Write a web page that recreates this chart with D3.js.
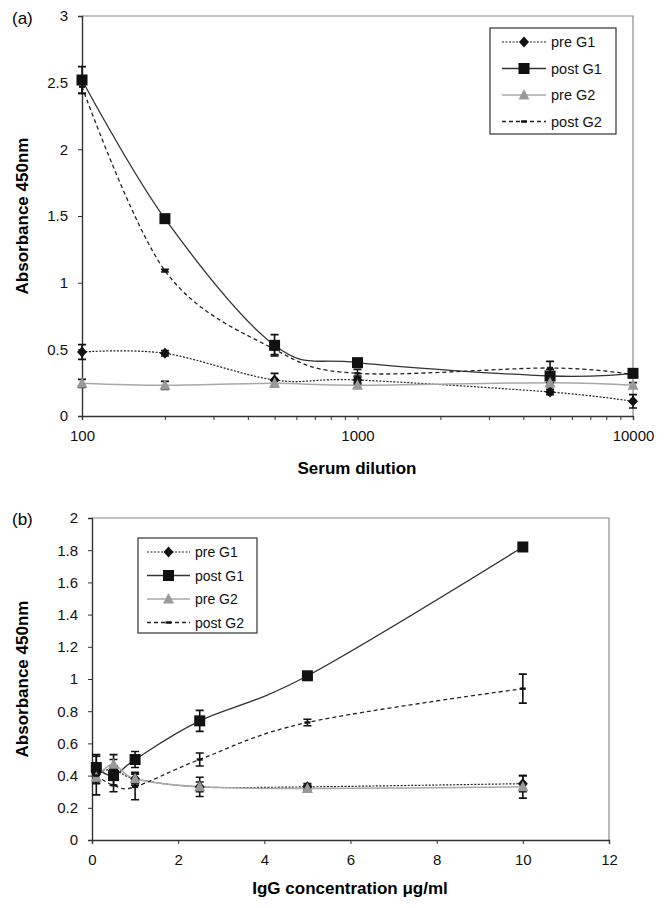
<!DOCTYPE html>
<html>
<head>
<meta charset="utf-8">
<script src="https://cdn.jsdelivr.net/npm/d3@7"></script>
<style>
  body { margin: 0; background: #fff; }
  svg { display: block; font-family: Arial, "Liberation Sans", sans-serif; }
</style>
</head>
<body>
<svg id="fig" width="669" height="908"></svg>
<script>
"use strict";

// panel (a) - serum dilution
const dilutions = [100, 200, 500, 1000, 5000, 10000];
const aPreG1 = [0.48, 0.47, 0.27, 0.27, 0.18, 0.11];
const aPostG1 = [2.52, 1.48, 0.53, 0.40, 0.30, 0.32];
const aPreG2 = [0.245, 0.23, 0.245, 0.23, 0.25, 0.23];
const aPostG2 = [2.47, 1.09, 0.50, 0.32, 0.36, 0.31];
const aPreG1Err = [0.055, 0.02, 0.05, 0.03, 0.02, 0.05];
const aPostG1Err = [0.10, 0.02, 0.08, 0.03, 0.05, 0.02];
const aPreG2Err = [0.03, 0.03, 0.02, 0.02, 0.03, 0.02];
const aPostG2Err = [0.05, 0.01, 0.04, 0.03, 0.05, 0.02];
const aYTicks = [0, 0.5, 1, 1.5, 2, 2.5, 3];
const aXTicks = [100, 1000, 10000];

// panel (b) - IgG concentration
const concs = [0.1, 0.5, 1, 2.5, 5, 10];
const bPreG1 = [0.41, 0.44, 0.38, 0.33, 0.33, 0.35];
const bPostG1 = [0.45, 0.40, 0.50, 0.74, 1.02, 1.82];
const bPreG2 = [0.39, 0.47, 0.38, 0.33, 0.32, 0.33];
const bPostG2 = [0.40, 0.34, 0.33, 0.50, 0.73, 0.94];
const bPreG1Err = [0.06, 0.06, 0.04, 0.03, 0.02, 0.05];
const bPostG1Err = [0.08, 0.06, 0.05, 0.065, 0.02, 0.02];
const bPreG2Err = [0.03, 0.06, 0.03, 0.06, 0.02, 0.07];
const bPostG2Err = [0.12, 0.04, 0.08, 0.04, 0.02, 0.09];
const bYTicks = [0, 0.2, 0.4, 0.6, 0.8, 1, 1.2, 1.4, 1.6, 1.8, 2];
const bXTicks = [0, 2, 4, 6, 8, 10, 12];

const seriesNames = ["pre G1", "post G1", "pre G2", "post G2"];

const styles = {
  "pre G1":  { stroke: "#222", width: 1.2, dash: "2,1.5", marker: "diamond", fill: "#111" },
  "post G1": { stroke: "#333", width: 1.3, dash: null, marker: "square", fill: "#111" },
  "pre G2":  { stroke: "#a8a8a8", width: 1.5, dash: null, marker: "triangle", fill: "#999" },
  "post G2": { stroke: "#222", width: 1.3, dash: "4,3", marker: "dash", fill: "#111" }
};

const svg = d3.select("#fig");

function drawMarker(g, type, x, y, fill) {
  if (type === "diamond") {
    g.append("path").attr("d", `M${x},${y-5.5}L${x+5},${y}L${x},${y+5.5}L${x-5},${y}Z`).attr("fill", fill);
  } else if (type === "square") {
    g.append("rect").attr("x", x - 5.5).attr("y", y - 5.5).attr("width", 11).attr("height", 11).attr("fill", fill);
  } else if (type === "triangle") {
    g.append("path").attr("d", `M${x},${y-6}L${x+5.5},${y+4.5}L${x-5.5},${y+4.5}Z`).attr("fill", fill);
  } else {
    g.append("rect").attr("x", x - 3).attr("y", y - 1.2).attr("width", 6).attr("height", 2.4).attr("fill", fill);
  }
}

function panel(opt) {
  const { x, y, box, xs, series, errs, yTicks, xTickVals, log, legend } = opt;
  const g = svg.append("g");

  // frame top/right
  g.append("path")
    .attr("d", `M${box.l},${box.t}H${box.r}V${box.b}`)
    .attr("fill", "none").attr("stroke", "#8a8a8a").attr("stroke-width", 1.2);

  // y axis
  const yAxis = g.append("g").attr("transform", `translate(${box.l},0)`)
    .call(d3.axisLeft(y).tickValues(yTicks).tickSize(4).tickPadding(10).tickFormat(d3.format("")));
  yAxis.select(".domain").attr("stroke", "#333").attr("stroke-width", 1.4);
  yAxis.selectAll(".tick line").attr("stroke", "#333");
  yAxis.selectAll("text").attr("font-size", 15).attr("fill", "#111");

  // x axis
  const xa = d3.axisBottom(x).tickSize(4).tickPadding(10);
  if (log) {
    xa.tickValues(x.ticks()).tickFormat(d => xTickVals.includes(d) ? d : "");
  } else {
    xa.tickValues(xTickVals).tickFormat(d3.format(""));
  }
  const xAxis = g.append("g").attr("transform", `translate(0,${box.b})`).call(xa);
  xAxis.select(".domain").attr("stroke", "#333").attr("stroke-width", 1.4);
  xAxis.selectAll(".tick line").attr("stroke", "#333");
  xAxis.selectAll("text").attr("font-size", 15).attr("fill", "#111");

  // lines
  const line = d3.line()
    .x((d, i) => x(xs[i]))
    .y(d => y(d))
    .curve(d3.curveCatmullRom.alpha(0));
  seriesNames.forEach((name, k) => {
    const s = styles[name];
    g.append("path")
      .attr("d", line(series[k]))
      .attr("fill", "none")
      .attr("stroke", s.stroke)
      .attr("stroke-width", s.width)
      .attr("stroke-dasharray", s.dash);
  });

  // error bars + markers
  seriesNames.forEach((name, k) => {
    const s = styles[name];
    series[k].forEach((v, i) => {
      const cx = x(xs[i]);
      const e = errs[k][i];
      const y1 = y(v + e), y2 = y(v - e);
      g.append("path")
        .attr("d", `M${cx},${y1}V${y2}M${cx-4},${y1}H${cx+4}M${cx-4},${y2}H${cx+4}`)
        .attr("stroke", "#111").attr("stroke-width", 1.6).attr("fill", "none");
    });
  });
  seriesNames.forEach((name, k) => {
    const s = styles[name];
    series[k].forEach((v, i) => drawMarker(g, s.marker, x(xs[i]), y(v), s.fill));
  });

  // legend
  const lg = g.append("g");
  lg.append("rect")
    .attr("x", legend.x).attr("y", legend.y)
    .attr("width", legend.w).attr("height", legend.h)
    .attr("fill", "#fff").attr("stroke", "#333").attr("stroke-width", 1.2);
  seriesNames.forEach((name, k) => {
    const s = styles[name];
    const ly = legend.y + legend.first + k * legend.step;
    lg.append("line")
      .attr("x1", legend.x + legend.s0).attr("x2", legend.x + legend.s1)
      .attr("y1", ly).attr("y2", ly)
      .attr("stroke", s.stroke).attr("stroke-width", s.width)
      .attr("stroke-dasharray", s.dash);
    drawMarker(lg, s.marker, legend.x + (legend.s0 + legend.s1) / 2, ly, s.fill);
    lg.append("text")
      .attr("x", legend.x + legend.tx).attr("y", ly + 5)
      .attr("font-size", legend.fs).attr("fill", "#111")
      .text(name);
  });
  return g;
}

// ---- panel (a)
const boxA = { l: 82, r: 633, t: 16, b: 416 };
const xA = d3.scaleLog().domain([100, 10000]).range([boxA.l, boxA.r]);
const yA = d3.scaleLinear().domain([0, 3]).range([boxA.b, boxA.t]);
panel({
  x: xA, y: yA, box: boxA, xs: dilutions,
  series: [aPreG1, aPostG1, aPreG2, aPostG2],
  errs: [aPreG1Err, aPostG1Err, aPreG2Err, aPostG2Err],
  yTicks: aYTicks, xTickVals: aXTicks, log: true,
  legend: { x: 490, y: 28, w: 126, h: 106, first: 14, step: 26.5, s0: 12, s1: 56, tx: 61, fs: 14.5 }
});

// ---- panel (b)
const boxB = { l: 92, r: 609, t: 518, b: 840 };
const xB = d3.scaleLinear().domain([0, 12]).range([boxB.l, boxB.r]);
const yB = d3.scaleLinear().domain([0, 2]).range([boxB.b, boxB.t]);
panel({
  x: xB, y: yB, box: boxB, xs: concs,
  series: [bPreG1, bPostG1, bPreG2, bPostG2],
  errs: [bPreG1Err, bPostG1Err, bPreG2Err, bPostG2Err],
  yTicks: bYTicks, xTickVals: bXTicks, log: false,
  legend: { x: 138, y: 538, w: 119, h: 95, first: 14, step: 23.5, s0: 9, s1: 52, tx: 57, fs: 14 }
});

// titles
svg.append("text").attr("x", 12).attr("y", 24).attr("font-size", 17).text("(a)");
svg.append("text").attr("x", 12).attr("y", 525).attr("font-size", 17).text("(b)");

svg.append("text").attr("x", 357).attr("y", 474).attr("text-anchor", "middle")
  .attr("font-size", 17).attr("font-weight", "bold").text("Serum dilution");
svg.append("text").attr("x", 350).attr("y", 894).attr("text-anchor", "middle")
  .attr("font-size", 17).attr("font-weight", "bold").text("IgG concentration μg/ml");

svg.append("text").attr("transform", "translate(28,216) rotate(-90)").attr("text-anchor", "middle")
  .attr("font-size", 17).attr("font-weight", "bold").text("Absorbance 450nm");
svg.append("text").attr("transform", "translate(28,679) rotate(-90)").attr("text-anchor", "middle")
  .attr("font-size", 17).attr("font-weight", "bold").text("Absorbance 450nm");
</script>
</body>
</html>
